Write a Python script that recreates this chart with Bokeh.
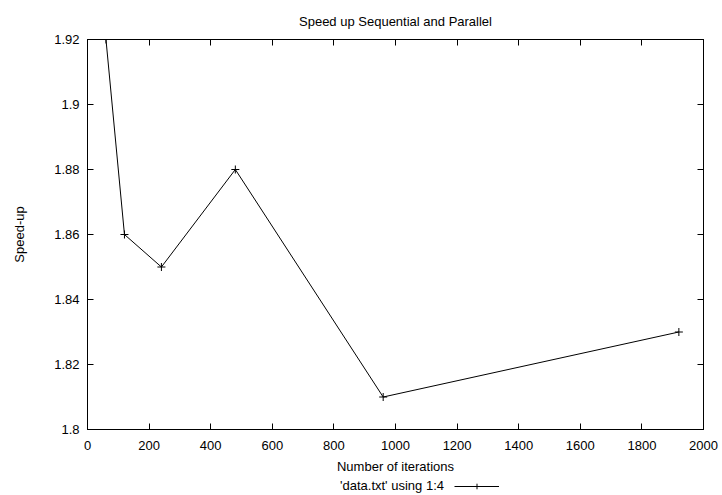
from bokeh.plotting import figure
from bokeh.layouts import column
from bokeh.models import (Range1d, LinearAxis, FixedTicker, CustomJSTickFormatter,
                          Legend, LegendItem, Title)
from bokeh.embed import file_html
from bokeh.resources import INLINE

# data
iterations = [60, 120, 240, 480, 960, 1920]
speedup = [1.92, 1.86, 1.85, 1.88, 1.81, 1.83]
x_ticks = [0, 200, 400, 600, 800, 1000, 1200, 1400, 1600, 1800, 2000]
y_ticks = [1.80, 1.82, 1.84, 1.86, 1.88, 1.90, 1.92]
series_label = "'data.txt' using 1:4"

FONT = "Liberation Sans"
FS = "13px"

p = figure(width=722, height=478, output_backend="svg", toolbar_location=None,
           x_range=Range1d(0, 2000), y_range=Range1d(1.8, 1.92),
           min_border_left=87, min_border_right=19, min_border_top=38, min_border_bottom=49,
           title=None)
p.grid.visible = False
p.outline_line_color = "black"
p.outline_line_width = 1
p.background_fill_color = "white"
p.border_fill_color = "white"

yfmt = CustomJSTickFormatter(code="return tick.toFixed(2).replace(/0$/, '');")
blank = CustomJSTickFormatter(code="return '';")

for ax in p.xaxis:
    ax.ticker = FixedTicker(ticks=x_ticks)
for ax in p.yaxis:
    ax.ticker = FixedTicker(ticks=y_ticks)
    ax.formatter = yfmt

for ax in p.axis:
    ax.major_tick_in = 6
    ax.major_tick_out = 0
    ax.minor_tick_in = 0
    ax.minor_tick_out = 0
    ax.axis_line_color = "black"
    ax.major_tick_line_color = "black"
    ax.major_label_text_font = FONT
    ax.major_label_text_font_size = FS
    ax.major_label_text_color = "black"
    ax.axis_label_text_font = FONT
    ax.axis_label_text_font_size = FS
    ax.axis_label_text_font_style = "normal"
    ax.axis_label_text_color = "black"

p.xaxis.axis_label = "Number of iterations"
p.xaxis.major_label_standoff = 11
p.xaxis.axis_label_standoff = 6
p.yaxis.axis_label = "Speed-up"
p.yaxis.major_label_standoff = 8
p.yaxis.axis_label_standoff = 24

# mirror axes (ticks only)
top = LinearAxis(ticker=FixedTicker(ticks=x_ticks), formatter=blank,
                 major_tick_in=6, major_tick_out=0, minor_tick_in=0, minor_tick_out=0,
                 major_label_standoff=0, axis_line_color="black")
right = LinearAxis(ticker=FixedTicker(ticks=y_ticks), formatter=blank,
                   major_tick_in=6, major_tick_out=0, minor_tick_in=0, minor_tick_out=0,
                   major_label_standoff=0, axis_line_color="black")
p.add_layout(top, "above")
p.add_layout(right, "right")

title = Title(text="Speed up Sequential and Parallel", text_font=FONT, text_font_size=FS,
              text_font_style="normal", text_color="black", align="center", offset=0,
              standoff=22)
p.add_layout(title, "above")

p.line(iterations, speedup, line_color="black", line_width=1)
p.scatter(iterations, speedup, marker="cross", size=8, line_color="black", line_width=1)

# key strip below the plot (gnuplot style: text first, then sample)
k = figure(width=722, height=17, output_backend="svg", toolbar_location=None,
           x_range=Range1d(-4000, -2000), y_range=Range1d(1.8, 1.92),
           x_axis_location=None, y_axis_location=None, title=None,
           min_border=0)
k.grid.visible = False
k.outline_line_color = None
k.background_fill_color = "white"
k.border_fill_color = "white"
spacer = k.line([], [], line_alpha=0)
kln = k.line(iterations, speedup, line_color="black", line_width=1)
kmk = k.scatter(iterations, speedup, marker="cross", size=8, line_color="black", line_width=1)

legend = Legend(items=[LegendItem(label=series_label, renderers=[spacer]),
                       LegendItem(label=" ", renderers=[kln, kmk])],
                location=(208, 2), orientation="horizontal",
                glyph_width=45, glyph_height=14, label_height=14, label_width=0,
                label_standoff=0, padding=0, margin=0, spacing=10,
                border_line_color=None, background_fill_alpha=0,
                label_text_font=FONT, label_text_font_size=FS, label_text_color="black")
k.add_layout(legend, "center")

page = column(p, k, spacing=0)
open("out.html", "w").write(file_html(page, INLINE))
